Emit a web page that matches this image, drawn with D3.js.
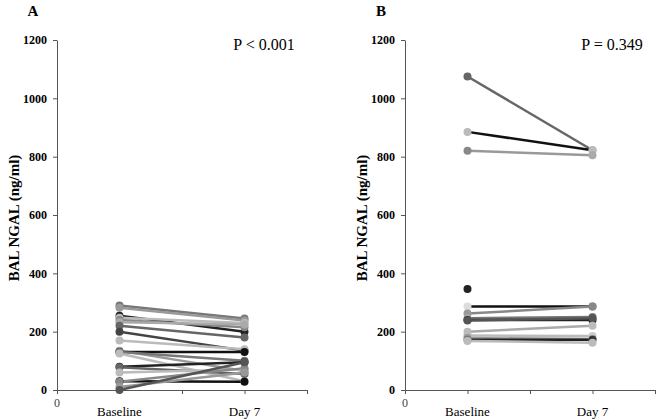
<!DOCTYPE html>
<html><head><meta charset="utf-8">
<script src="https://cdn.jsdelivr.net/npm/d3@7"></script>
<style>body{margin:0;background:#fff}svg{display:block}text{font-family:"Liberation Serif","Times New Roman",serif}</style>
</head><body><svg id="c" width="659" height="420"></svg>
<script>
const categories = ["Baseline", "Day 7"];
const yTicks = [0, 200, 400, 600, 800, 1000, 1200];
const panelLabels = ["A", "B"];
const pTexts = ["P < 0.001", "P = 0.349"];
const yTitle = "BAL NGAL (ng/ml)";

const panelA_baseline = [290, 282, 255, 248, 240, 232, 220, 200, 170, 135, 130, 130, 125, 80, 78, 60, 30, 28, 10, 0];
const panelA_day7     = [245, 238, 200, 230, 215, 225, 180, 135, 140, 65, 130, 100, 30, 95, 55, 70, 28, 75, 60, 95];
const panelA_shade    = ["#777", "#999", "#222", "#bbb", "#888", "#aaa", "#666", "#444", "#bbb", "#999", "#111", "#777", "#bbb", "#222", "#666", "#bbb", "#111", "#888", "#999", "#555"];

const panelB_baseline = [1075, 885, 820, 346, 286, 262, 246, 240, 238, 200, 187, 178, 172, 168];
const panelB_day7     = [822, 822, 805, null, 286, 286, 250, 240, 246, 220, 185, 175, 172, 162];
const panelB_shade    = ["#666", "#111", "#999", "#222", "#111", "#888", "#777", "#222", "#555", "#aaa", "#bbb", "#999", "#222", "#bbb"];
const panelB_dotShade = ["#666", "#bbb", "#888", "#222", "#ddd", "#999", "#aaa", "#222", "#555", "#bbb", "#bbb", "#999", "#777", "#bbb"];
const panelB_dayDot   = ["#999", "#bbb", "#aaa", null, "#888", "#888", "#777", "#222", "#555", "#bbb", "#ccc", "#999", "#333", "#bbb"];

(function () {
const svg = d3.select("#c");
const panels = [
  {x0: 57, base: panelA_baseline, day: panelA_day7, shade: panelA_shade, dot: panelA_shade, dayDot: panelA_shade},
  {x0: 405, base: panelB_baseline, day: panelB_day7, shade: panelB_shade, dot: panelB_dotShade, dayDot: panelB_dayDot}
];
const yTop = 40, yBottom = 390, width = 250;

panels.forEach((p, i) => {
  const g = svg.append("g");
  const x = d3.scaleLinear().domain([0, 4]).range([p.x0, p.x0 + width]);
  const y = d3.scaleLinear().domain([0, 1200]).range([yBottom, yTop]);

  const ya = g.append("g").attr("transform", `translate(${p.x0},0)`)
    .call(d3.axisLeft(y).tickValues(yTicks).tickFormat(d3.format("d")).tickSize(4).tickSizeOuter(0));
  ya.attr("font-family", null);
  ya.select(".domain").attr("stroke", "#555");
  ya.selectAll(".tick line").attr("stroke", "#555");
  ya.selectAll(".tick text").attr("font-size", 12).attr("font-weight", "bold")
    .attr("fill", "#000").attr("x", -10);

  const xa = g.append("g").attr("transform", `translate(0,${yBottom})`)
    .call(d3.axisBottom(x).tickValues([0, 1, 2, 3, 4]).tickSize(4).tickSizeOuter(0).tickFormat(() => ""));
  xa.select(".domain").attr("stroke", "#555");
  xa.selectAll(".tick line").attr("stroke", "#555");
  g.append("text").attr("x", x(0)).attr("y", yBottom + 17).attr("text-anchor", "middle")
    .attr("font-size", 12).attr("fill", "#444").text("0");
  categories.forEach((c, k) => {
    g.append("text").attr("x", x(1 + 2 * k)).attr("y", yBottom + 26).attr("text-anchor", "middle")
      .attr("font-size", 13).attr("fill", "#000").text(c);
  });

  p.base.forEach((b, k) => {
    if (p.day[k] == null) return;
    g.append("line").attr("x1", x(1)).attr("y1", y(b)).attr("x2", x(3)).attr("y2", y(p.day[k]))
      .attr("stroke", p.shade[k]).attr("stroke-width", 2.5);
  });
  p.base.forEach((b, k) => {
    g.append("circle").attr("cx", x(1)).attr("cy", y(b)).attr("r", 4).attr("fill", p.dot[k]);
    if (p.day[k] != null)
      g.append("circle").attr("cx", x(3)).attr("cy", y(p.day[k])).attr("r", 4).attr("fill", p.dayDot[k]);
  });

  g.append("text").attr("transform", `translate(${p.x0 - 38},${(yTop + yBottom) / 2 + 3}) rotate(-90)`)
    .attr("text-anchor", "middle").attr("font-size", 15).attr("font-weight", "bold").text(yTitle);
  g.append("text").attr("x", p.x0 - 24).attr("y", 16).attr("text-anchor", "middle")
    .attr("font-size", 15).attr("font-weight", "bold").text(panelLabels[i]);
  g.append("text").attr("x", p.x0 + 207).attr("y", 50).attr("text-anchor", "middle")
    .attr("font-size", 16).text(pTexts[i]);
});
})();
</script></body></html>
